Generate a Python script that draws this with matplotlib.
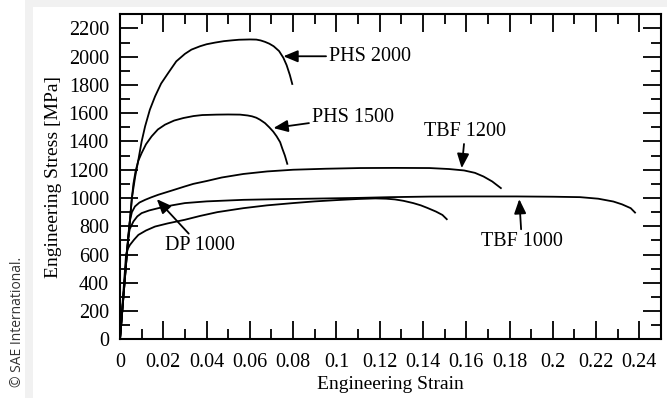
import matplotlib
matplotlib.use("Agg")
import matplotlib.pyplot as plt
from matplotlib.patches import Rectangle
from matplotlib.ticker import MultipleLocator

# strain / stress points
phs2000_strain = [0, 0.0030, 0.0055, 0.0070, 0.0085, 0.0100, 0.0116, 0.0138, 0.0162, 0.019,
                  0.0223, 0.026, 0.030, 0.033, 0.037, 0.040, 0.044, 0.048, 0.052, 0.055,
                  0.060, 0.063, 0.065, 0.067, 0.069, 0.071, 0.0735, 0.0755, 0.077, 0.0785,
                  0.0796]
phs2000_stress = [0, 570, 1000, 1150, 1271, 1400, 1507, 1625, 1719, 1810,
                  1885, 1967, 2020, 2050, 2074, 2088, 2100, 2110, 2116, 2120,
                  2122, 2121, 2115, 2105, 2092, 2074, 2040, 1992, 1940, 1870,
                  1807]

phs1500_strain = [0, 0.0030, 0.0055, 0.0062, 0.0072, 0.0085, 0.010, 0.012, 0.0146, 0.0175,
                  0.0208, 0.025, 0.0293, 0.034, 0.038, 0.0447, 0.050, 0.0555, 0.059, 0.061,
                  0.063, 0.0647, 0.067, 0.069, 0.0708, 0.0724, 0.074, 0.075, 0.0762, 0.0773]
phs1500_stress = [0, 570, 1000, 1100, 1190, 1265, 1318, 1380, 1436, 1485,
                  1519, 1548, 1566, 1580, 1587, 1590, 1591, 1590, 1584, 1578,
                  1568, 1554, 1530, 1500, 1470, 1436, 1395, 1350, 1300, 1242]

tbf1200_strain = [0, 0.0030, 0.0040, 0.0046, 0.0055, 0.0069, 0.009, 0.0116, 0.0145, 0.0177,
                  0.024, 0.030, 0.0339, 0.040, 0.047, 0.057, 0.068, 0.080, 0.095, 0.111,
                  0.127, 0.143, 0.152, 0.159, 0.164, 0.168, 0.172, 0.176]
tbf1200_stress = [0, 570, 760, 840, 900, 940, 968, 987, 1005, 1023,
                  1053, 1082, 1100, 1120, 1145, 1170, 1188, 1200, 1207, 1212,
                  1213, 1212, 1205, 1195, 1178, 1152, 1117, 1070]

tbf1000_strain = [0, 0.0030, 0.0038, 0.0045, 0.0062, 0.008, 0.010, 0.0135, 0.0177, 0.024,
                  0.030, 0.040, 0.057, 0.070, 0.0878, 0.111, 0.125, 0.143, 0.160, 0.183,
                  0.200, 0.2126, 0.221, 0.228, 0.232, 0.236, 0.238]
tbf1000_stress = [0, 590, 720, 780, 834, 870, 893, 912, 928, 948,
                  964, 976, 987, 991, 995, 1001, 1006, 1010, 1011, 1011,
                  1009, 1006, 995, 975, 955, 928, 897]

dp1000_strain = [0, 0.0028, 0.0034, 0.0046, 0.0065, 0.0085, 0.012, 0.0162, 0.022, 0.030,
                 0.037, 0.045, 0.057, 0.068, 0.080, 0.090, 0.100, 0.110, 0.118, 0.123,
                 0.127, 0.131, 0.1355, 0.139, 0.142, 0.146, 0.149, 0.151]
dp1000_stress = [0, 600, 635, 668, 705, 739, 770, 798, 820, 846,
                 873, 900, 928, 948, 964, 976, 985, 993, 997, 995,
                 990, 980, 964, 948, 930, 904, 880, 850]

# label, text position, arrow tip
labels = ["PHS 2000", "PHS 1500", "TBF 1200", "DP 1000", "TBF 1000"]
label_xy = [(0.0965, 2003), (0.0886, 1573), (0.1595, 1469), (0.037, 661), (0.1857, 692)]
tip_xy = [(0.0755, 2003), (0.0709, 1495), (0.1579, 1211), (0.0170, 992), (0.1845, 992)]

plt.rcParams["font.family"] = ["Liberation Serif", "DejaVu Serif"]

fig = plt.figure(figsize=(6.67, 3.98), dpi=100)
fig.patch.set_facecolor("white")

# light shadow strips around the white card
fig.patches.append(Rectangle((25 / 667, 1 - 7 / 398), 1, 7 / 398, transform=fig.transFigure,
                             facecolor="#f1f1f1", edgecolor="none", zorder=0))
fig.patches.append(Rectangle((25 / 667, 0), 8 / 667, 1, transform=fig.transFigure,
                             facecolor="#f1f1f1", edgecolor="none", zorder=0))

ax = fig.add_axes([120 / 667, 1 - 339.3 / 398, 541 / 667, 325 / 398])

for xs, ys in [(phs2000_strain, phs2000_stress), (phs1500_strain, phs1500_stress),
               (tbf1200_strain, tbf1200_stress), (tbf1000_strain, tbf1000_stress),
               (dp1000_strain, dp1000_stress)]:
    ax.plot(xs, ys, color="black", linewidth=1.3, solid_joinstyle="round")

for text, (tx, ty), (px, py) in zip(labels, label_xy, tip_xy):
    if text.startswith("PHS"):
        ha = "left"
    else:
        ha = "center"
    ax.annotate(text, xy=(px, py), xytext=(tx, ty), ha=ha, va="center", fontsize=14.5,
                arrowprops=dict(arrowstyle="-|>,head_length=0.6,head_width=0.25",
                                color="black", lw=1.3, shrinkA=0, shrinkB=0))

ax.set_xlim(0, 0.25)
ax.set_ylim(0, 2300)
ax.xaxis.set_major_locator(MultipleLocator(0.02))
ax.xaxis.set_minor_locator(MultipleLocator(0.01))
ax.yaxis.set_major_locator(MultipleLocator(200))
ax.yaxis.set_minor_locator(MultipleLocator(100))
ax.set_xticks([0, 0.02, 0.04, 0.06, 0.08, 0.1, 0.12, 0.14, 0.16, 0.18, 0.2, 0.22, 0.24])
ax.set_xticklabels(["0", "0.02", "0.04", "0.06", "0.08", "0.1", "0.12", "0.14",
                    "0.16", "0.18", "0.2", "0.22", "0.24"])
ax.tick_params(which="both", direction="in", top=True, right=True, width=1.3,
               labelsize=14.5)
ax.tick_params(which="major", length=13)
ax.tick_params(which="minor", length=7)
ax.tick_params(axis="x", pad=10)
ax.tick_params(axis="y", pad=8)
for spine in ax.spines.values():
    spine.set_linewidth(1.5)

ax.set_xlabel("Engineering Strain", fontsize=14, labelpad=3)
ax.set_ylabel("Engineering Stress [MPa]", fontsize=14, labelpad=5)

fig.text(18 / 667, 1 - 322 / 398, "\u00a9 SAE International.", rotation=90,
         ha="center", va="center", fontsize=10, color="#333333",
         family=["Open Sans", "DejaVu Sans"])

fig.savefig("out.png", dpi=100)
